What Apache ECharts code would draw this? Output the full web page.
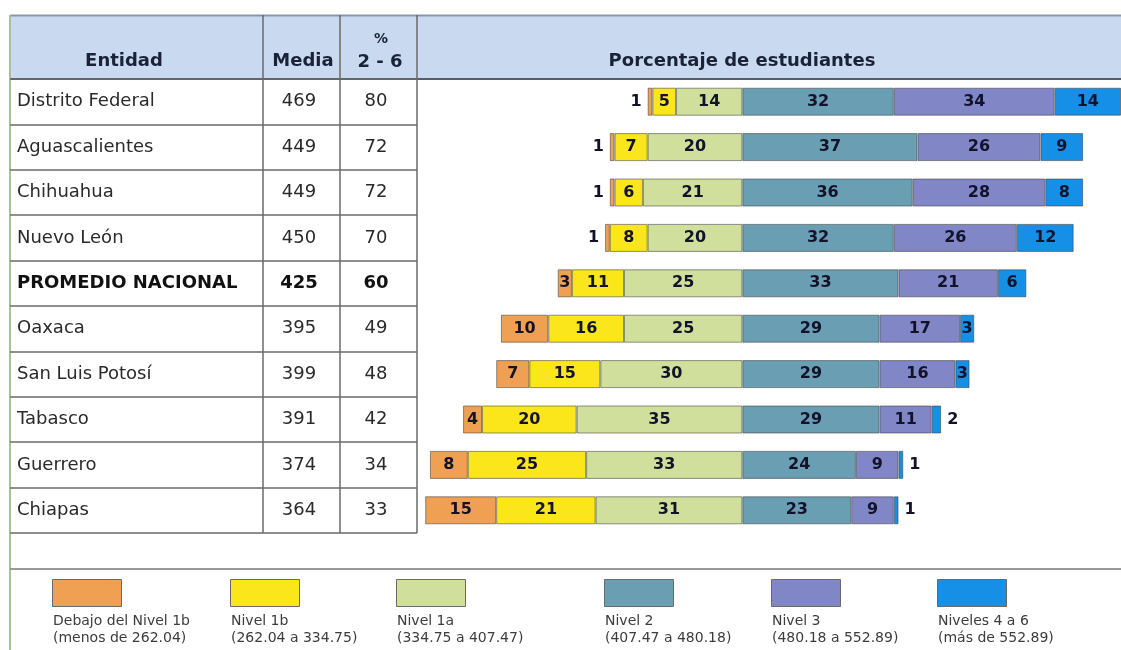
<!DOCTYPE html>
<html>
<head>
<meta charset="utf-8">
<script src="https://cdn.jsdelivr.net/npm/echarts@6/dist/echarts.min.js"></script>
<style>
  html, body { margin: 0; padding: 0; background: #ffffff; }
  #main { width: 1121px; height: 650px; }
</style>
</head>
<body>
<div id="main"></div>
<script>
// datos de la tabla
const entidades = ['Distrito Federal', 'Aguascalientes', 'Chihuahua', 'Nuevo León', 'PROMEDIO NACIONAL',
  'Oaxaca', 'San Luis Potosí', 'Tabasco', 'Guerrero', 'Chiapas'];
const media = [469, 449, 449, 450, 425, 395, 399, 391, 374, 364];
const pct26 = [80, 72, 72, 70, 60, 49, 48, 42, 34, 33];

// porcentaje de estudiantes por nivel
const debajo = [1, 1, 1, 1, 3, 10, 7, 4, 8, 15];
const nivel1b = [5, 7, 6, 8, 11, 16, 15, 20, 25, 21];
const nivel1a = [14, 20, 21, 20, 25, 25, 30, 35, 33, 31];
const nivel2 = [32, 37, 36, 32, 33, 29, 29, 29, 24, 23];
const nivel3 = [34, 26, 28, 26, 21, 17, 16, 11, 9, 9];
const nivel46 = [14, 9, 8, 12, 6, 3, 3, 2, 1, 1];

const niveles = ['Debajo del Nivel 1b', 'Nivel 1b', 'Nivel 1a', 'Nivel 2', 'Nivel 3', 'Niveles 4 a 6'];
const rangos = ['(menos de 262.04)', '(262.04 a 334.75)', '(334.75 a 407.47)',
  '(407.47 a 480.18)', '(480.18 a 552.89)', '(más de 552.89)'];

const colores = ['#f0a052', '#fbe61c', '#d0e09c', '#6a9eb3', '#8086c6', '#1690e6'];
const legendX = [52, 230, 396, 604, 771, 937];
const FONT = '"DejaVu Sans", Verdana, sans-serif';
const PROMEDIO = 4;

// valores pequeños (<=2) van fuera de la barra
function toItems(arr, sign) {
  return arr.map(v => v <= 2
    ? {value: sign * v, label: {position: sign < 0 ? 'left' : 'right', distance: 6}}
    : sign * v);
}

function barSerie(idx, arr, sign) {
  return {
    name: niveles[idx],
    type: 'bar',
    stack: 'total',
    xAxisIndex: 0,
    yAxisIndex: 0,
    barWidth: 28,
    data: toItems(arr, sign),
    itemStyle: {color: colores[idx], borderColor: 'rgba(60,60,60,0.55)', borderWidth: 1},
    label: {
      show: true,
      position: 'inside',
      formatter: p => Math.abs(p.value),
      fontFamily: FONT,
      fontWeight: 'bold',
      fontSize: 16,
      color: '#12132a'
    },
    emphasis: {disabled: true}
  };
}

function tableAxis(margin, align, textOf) {
  return {
    type: 'category',
    gridIndex: 1,
    position: 'left',
    inverse: true,
    data: entidades,
    axisLine: {show: false, onZero: false},
    axisTick: {show: false},
    splitLine: {show: false},
    axisLabel: {
      interval: 0,
      margin: margin,
      align: align,
      fontFamily: FONT,
      fontSize: 18,
      color: '#2a2a2a',
      formatter: (v, i) => i === PROMEDIO ? '{b|' + textOf(i) + '}' : textOf(i),
      rich: {b: {fontFamily: FONT, fontSize: 18, fontWeight: 'bold', color: '#111111'}}
    }
  };
}

const chart = echarts.init(document.getElementById('main'));

const lineStyle = {stroke: '#6a6a6a', lineWidth: 1.5};
const graphics = [
  // cabecera
  {type: 'rect', z: -1, shape: {x: 10, y: 16, width: 1111, height: 62}, style: {fill: '#c9daf0'}},
  {type: 'line', shape: {x1: 10, y1: 15.5, x2: 1121, y2: 15.5}, style: {stroke: '#8a97a8', lineWidth: 2}},
  {type: 'line', shape: {x1: 10, y1: 79, x2: 1121, y2: 79}, style: {stroke: '#545d69', lineWidth: 2}},
  {type: 'line', shape: {x1: 10, y1: 15, x2: 10, y2: 650}, style: {stroke: '#a9c197', lineWidth: 2}},
  {type: 'line', shape: {x1: 263, y1: 15, x2: 263, y2: 533}, style: lineStyle},
  {type: 'line', shape: {x1: 340, y1: 15, x2: 340, y2: 533}, style: lineStyle},
  {type: 'line', shape: {x1: 417, y1: 15, x2: 417, y2: 533}, style: lineStyle},
  {type: 'line', shape: {x1: 10, y1: 569, x2: 1121, y2: 569}, style: {stroke: '#9a9a9a', lineWidth: 2}}
];
const headers = [
  ['Entidad', 124, 61, 18], ['Media', 303, 61, 18], ['%', 381, 39, 14],
  ['2 - 6', 380, 62, 18], ['Porcentaje de estudiantes', 742, 61, 18]
];
headers.forEach(([t, x, y, s]) => graphics.push({
  type: 'text',
  style: {text: t, x: x, y: y, font: 'bold ' + s + 'px ' + FONT, fill: '#1a2238',
    align: 'center', textAlign: 'center', verticalAlign: 'middle', textVerticalAlign: 'middle'}
}));
niveles.forEach((n, i) => graphics.push({
  type: 'text',
  style: {text: n + '\n' + rangos[i], x: legendX[i] + 1, y: 613, font: '14px ' + FONT, fill: '#3c3c3c',
    lineHeight: 17, align: 'left', textAlign: 'left', verticalAlign: 'top', textVerticalAlign: 'top'}
}));

chart.setOption({
  backgroundColor: '#ffffff',
  animation: false,
  grid: [
    {left: 411, width: 712, top: 79, height: 454},
    {left: 10, width: 407, top: 79, height: 454}
  ],
  xAxis: [
    {type: 'value', gridIndex: 0, min: -70, max: 80, show: false},
    {type: 'value', gridIndex: 1, min: 0, max: 1, show: false}
  ],
  yAxis: [
    {type: 'category', gridIndex: 0, inverse: true, data: entidades, show: false},
    Object.assign(tableAxis(-7, 'left', i => entidades[i]), {
      splitLine: {show: true, lineStyle: {color: '#6a6a6a', width: 1.5}}
    }),
    tableAxis(-289, 'center', i => media[i]),
    tableAxis(-366, 'center', i => pct26[i])
  ],
  legend: niveles.map((n, i) => ({
    data: [n],
    left: legendX[i],
    top: 579,
    padding: 0,
    icon: 'rect',
    itemWidth: 69,
    itemHeight: 27,
    selectedMode: false,
    formatter: () => '',
    itemStyle: {borderColor: '#6a6a6a', borderWidth: 1}
  })),
  series: [
    barSerie(2, nivel1a, -1),
    barSerie(1, nivel1b, -1),
    barSerie(0, debajo, -1),
    barSerie(3, nivel2, 1),
    barSerie(4, nivel3, 1),
    barSerie(5, nivel46, 1)
  ],
  graphic: graphics
});
</script>
</body>
</html>
